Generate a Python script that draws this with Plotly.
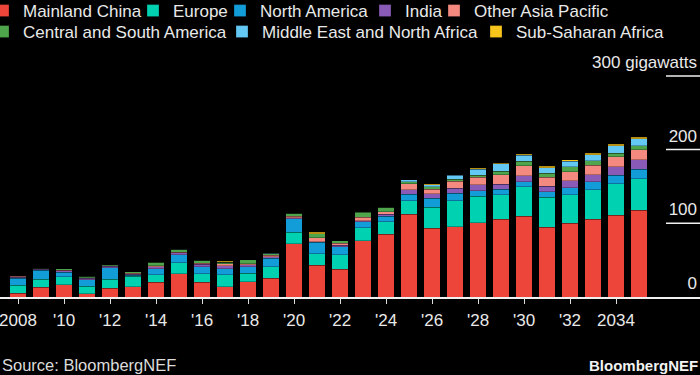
import plotly.graph_objects as go

years = list(range(2008, 2036))

mainland_china = [5.4, 13, 16.7, 4.5, 11.8, 14, 20, 31.6, 20, 14, 21, 25.3, 72, 43, 37.5, 76, 85, 112, 93.6, 95, 101, 105.4, 109.5, 94.6, 100, 105.4, 110.9, 118]
europe = [10.4, 11.3, 10.9, 10.4, 12.2, 14, 10.4, 14.9, 11.3, 16.3, 11.3, 15.8, 16.2, 15.8, 19.5, 18, 17.2, 18.5, 28.1, 35.7, 35.6, 33.4, 39.8, 40.7, 38.8, 40.2, 42.9, 42.5]
north_america = [9.5, 12.2, 5.9, 8.2, 15.8, 1.8, 8.1, 10.9, 9.9, 8.1, 9, 11.4, 18.1, 15.4, 11.3, 8.2, 7.3, 9, 12.6, 10, 7.7, 7.7, 7.2, 7.6, 9.5, 10.9, 11.3, 12.7]
india = [1.8, 1.4, 2.2, 2.2, 2.2, 1.4, 2.7, 2.4, 3.5, 4.1, 2.3, 1.8, 1.2, 1, 1.8, 1.5, 3.1, 6.3, 5.9, 7.2, 7.7, 6.8, 7.7, 7.7, 9.5, 9.5, 11.7, 12.7]
other_asia_pacific = [1.4, 0.6, 0.5, 1, 0.5, 1, 1.2, 1, 1, 2.3, 1.8, 2.3, 2, 5.3, 2.8, 4.5, 3.1, 8.2, 6.3, 9.1, 10.4, 12.7, 14, 11.8, 12.2, 13.1, 13.6, 13.6]
central_south_america = [0.4, 0.8, 1.8, 1.7, 1.4, 1.8, 4.5, 3.8, 4.5, 2.5, 5, 1.8, 4.1, 5.4, 3.5, 7, 6, 2.7, 2.8, 3.1, 3.1, 4.6, 5.9, 5.8, 6.4, 5.9, 4.6, 5.4]
middle_east_north_africa = [0, 0, 0, 0, 0, 0, 0, 0, 0, 0, 0, 0.9, 0, 0, 0, 0.5, 0, 2.7, 2.7, 5, 7.7, 10.3, 8.2, 7.2, 7.7, 8.1, 10.3, 9.9]
sub_saharan_africa = [0, 0, 0, 0, 0, 0, 1, 0, 0, 1.5, 0, 0, 0, 2.3, 0, 0, 0, 0, 1.7, 0.9, 1.4, 0.9, 1.7, 1.9, 2.2, 1.9, 1.9, 1.9]

series_names = ["Mainland China", "Europe", "North America", "India", "Other Asia Pacific",
                "Central and South America", "Middle East and North Africa", "Sub-Saharan Africa"]
series_values = [mainland_china, europe, north_america, india, other_asia_pacific,
                 central_south_america, middle_east_north_africa, sub_saharan_africa]
colors = ["#ee453a", "#00d1b0", "#129cd8", "#8a5bb6", "#f3897f", "#4fa54c", "#63c8f4", "#f8c51c"]

x_tickvals = list(range(2008, 2035, 2))
x_ticktext = ["2008", "'10", "'12", "'14", "'16", "'18", "'20", "'22", "'24", "'26", "'28", "'30", "'32", "2034"]
y_tickvals = [0, 100, 200, 300]
y_ticktext = ["0", "100", "200", "300 gigawatts"]
grid_vals = [100, 200, 300]

FONT = "Liberation Sans, Arial, sans-serif"
TXT = "#e9e9e9"
FS = 17
W, H = 700, 375
ML, MR, MT, MB = 0, 0, 50, 78
PW, PH = W - ML - MR, H - MT - MB

# legend layout (pixel positions of legend boxes)
legend_px = [(-17, 11), (133, 11), (220, 11), (365, 11), (434, 11),
             (-17, 32), (222, 32), (476, 32)]

fig = go.Figure()
for i, (name, vals, col) in enumerate(zip(series_names, series_values, colors)):
    lname = "legend" if i == 0 else f"legend{i+1}"
    fig.add_trace(go.Bar(
        x=years, y=vals, name=name, legend=lname,
        marker=dict(color=col, line=dict(color="rgba(0,0,0,0.45)", width=0.6)),
    ))

layout_legends = {}
for i, (px, py) in enumerate(legend_px):
    lname = "legend" if i == 0 else f"legend{i+1}"
    layout_legends[lname] = dict(
        x=px / PW, y=(PH - (py - MT)) / PH, xanchor="left", yanchor="middle",
        orientation="h", bgcolor="rgba(0,0,0,0)", borderwidth=0,
        font=dict(family=FONT, size=FS, color=TXT), itemwidth=30,
    )

fig.update_layout(
    width=W, height=H,
    margin=dict(l=ML, r=MR, t=MT, b=MB, pad=0, autoexpand=False),
    paper_bgcolor="black", plot_bgcolor="black",
    barmode="stack", bargap=0.28,
    showlegend=True,
    font=dict(family=FONT, color=TXT, size=FS),
    xaxis=dict(
        range=[2007.217, 2037.652], tickmode="array", tickvals=x_tickvals, ticktext=x_ticktext,
        ticks="outside", ticklen=5, tickwidth=1, tickcolor="#dddddd",
        showline=True, linecolor="#f0f0f0", linewidth=1.5,
        showgrid=False, zeroline=False, ticklabelstandoff=2, ticklabeloverflow="allow",
        tickfont=dict(family=FONT, size=FS, color=TXT), automargin=False,
    ),
    yaxis=dict(
        range=[0, PH / 0.737], side="right", ticklabelposition="inside",
        tickmode="array", tickvals=y_tickvals, ticktext=y_ticktext,
        ticks="", showgrid=False, zeroline=False, showline=False,
        ticklabelshift=-14, ticklabelstandoff=0, ticklabeloverflow="allow",
        tickfont=dict(family=FONT, size=FS, color=TXT), automargin=False,
    ),
    **layout_legends,
)

for v in grid_vals:
    fig.add_shape(type="line", xref="paper", yref="y", x0=666 / PW, x1=1, y0=v, y1=v,
                  line=dict(color="#f0f0f0", width=1.5))

fig.add_annotation(text="Source: BloombergNEF", xref="paper", yref="paper",
                   x=0, y=-(365 - (MT + PH)) / PH, xanchor="left", yanchor="middle",
                   showarrow=False, font=dict(family=FONT, size=16.5, color="#dcdcdc"))
fig.add_annotation(text="<b>BloombergNEF</b>", xref="paper", yref="paper",
                   x=1, y=-(365 - (MT + PH)) / PH, xanchor="right", yanchor="middle",
                   showarrow=False, font=dict(family=FONT, size=15, color="#f2f2f2"))

fig.write_html("out.html", config={"displayModeBar": False},
               post_script="document.body.style.margin='0';document.body.style.background='black';")
